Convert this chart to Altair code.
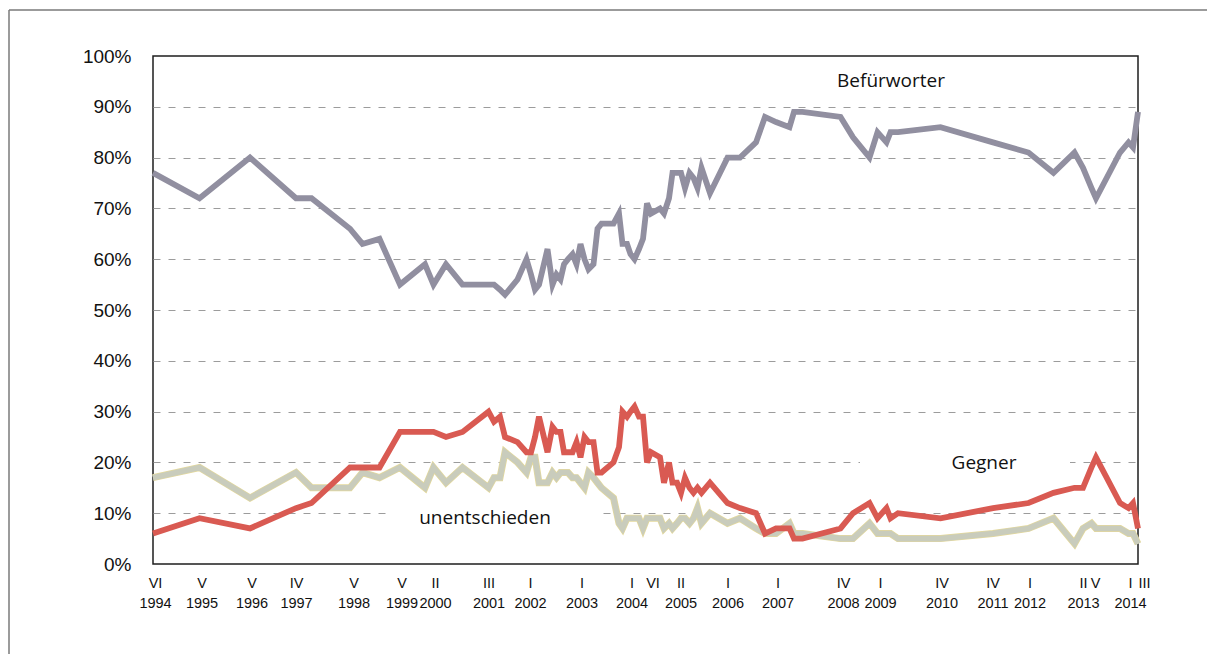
import json
import altair as alt
import pandas as pd

# survey dates (decimal years) and shares in percent
years = [
    1994.46, 1995.39, 1996.40, 1997.32, 1997.63, 1998.40, 1998.65, 1998.99, 1999.40, 1999.90,
    2000.07, 2000.32, 2000.65, 2001.17, 2001.28, 2001.40, 2001.50, 2001.75, 2001.93, 2002.02,
    2002.10, 2002.18, 2002.35, 2002.45, 2002.53, 2002.61, 2002.68, 2002.76, 2002.85, 2002.93,
    2003.01, 2003.09, 2003.17, 2003.27, 2003.35, 2003.43, 2003.67, 2003.78, 2003.85, 2003.94,
    2004.01, 2004.09, 2004.18, 2004.26, 2004.34, 2004.42, 2004.60, 2004.68, 2004.78, 2004.85,
    2004.94, 2005.02, 2005.10, 2005.19, 2005.27, 2005.35, 2005.43, 2005.60, 2005.95, 2006.20,
    2006.52, 2006.70, 2006.92, 2007.19, 2007.28, 2007.45, 2008.21, 2008.46, 2008.79, 2008.95,
    2009.13, 2009.21, 2009.36, 2010.21, 2011.26, 2011.97, 2012.47, 2012.89, 2013.06, 2013.23,
    2013.32, 2013.80, 2013.97, 2014.06, 2014.16,
]
befuerworter = [
    77, 72, 80, 72, 72, 66, 63, 64, 55, 59,
    55, 59, 55, 55, 55, 54, 53, 56, 60, 57,
    54, 55, 62, 55, 57, 56, 59, 60, 61, 59,
    63, 60, 58, 59, 66, 67, 67, 69, 63, 63,
    61, 60, 62, 64, 71, 69, 70, 69, 72, 77,
    77, 77, 74, 77, 76, 74, 78, 73, 80, 80,
    83, 88, 87, 86, 89, 89, 88, 84, 80, 85,
    83, 85, 85, 86, 83, 81, 77, 81, 78, 74,
    72, 81, 83, 82, 89,
]
gegner = [
    6, 9, 7, 11, 12, 19, 19, 19, 26, 26,
    26, 25, 26, 30, 28, 29, 25, 24, 22, 22,
    25, 29, 22, 27, 26, 26, 22, 22, 22, 24,
    21, 25, 24, 24, 18, 18, 20, 23, 30, 29,
    30, 31, 29, 29, 20, 22, 21, 16, 20, 16,
    16, 14, 17, 15, 14, 15, 14, 16, 12, 11,
    10, 6, 7, 7, 5, 5, 7, 10, 12, 9,
    11, 9, 10, 9, 11, 12, 14, 15, 15, 19,
    21, 12, 11, 12, 7,
]
unentschieden = [
    17, 19, 13, 18, 15, 15, 18, 17, 19, 15,
    19, 16, 19, 15, 17, 17, 22, 20, 18, 21,
    21, 16, 16, 18, 17, 18, 18, 18, 17, 17,
    16, 15, 18, 17, 16, 15, 13, 8, 7, 9,
    9, 9, 9, 7, 9, 9, 9, 7, 8, 7,
    8, 9, 9, 8, 9, 11, 8, 10, 8, 9,
    7, 6, 6, 8, 6, 6, 5, 5, 8, 6,
    6, 6, 5, 5, 6, 7, 9, 4, 7, 8,
    7, 7, 6, 6, 4,
]

# x-axis tick labels (Roman month + year)
tick_values = [1994.50, 1995.43, 1996.43, 1997.32, 1998.47, 1999.43, 2000.10, 2001.17,
               2002.00, 2003.03, 2004.03, 2004.45, 2005.01, 2005.95, 2006.95, 2008.26,
               2009.00, 2010.23, 2011.25, 2011.99, 2013.06, 2013.30, 2014.00, 2014.16]
tick_roman = ["VI", "V", "V", "IV", "V", "V", "II", "III", "I", "I", "I", "VI", "II", "I",
              "I", "IV", "I", "IV", "IV", "I", "II", "V", "I", "III"]
tick_year = ["1994", "1995", "1996", "1997", "1998", "1999", "2000", "2001", "2002", "2003",
             "2004", "", "2005", "2006", "2007", "2008", "2009", "2010", "2011", "2012",
             "2013", "", "2014", ""]

# series labels placed in data coordinates
label_text = ["Befürworter", "Gegner", "unentschieden"]
label_t = [2009.22, 2011.08, 2001.10]
label_v = [95.1, 19.9, 9.0]
# white boxes behind the Gegner / unentschieden labels
box_t = [2008.60, 1999.20]
box_t2 = [2012.80, 2003.46]
box_v = [17.0, 5.5]
box_v2 = [22.5, 12.5]

series_names = ["Befürworter", "Gegner", "unentschieden"]
series_values = [befuerworter, gegner, unentschieden]
rows = []
for name, vals in zip(series_names, series_values):
    for t, v in zip(years, vals):
        rows.append({"t": t, "v": v, "serie": name})
df = pd.DataFrame(rows)

labels_df = pd.DataFrame({"t": label_t, "v": label_v, "text": label_text})
boxes_df = pd.DataFrame({"t": box_t, "t2": box_t2, "v": box_v, "v2": box_v2})

label_arrays = [[r, y] if y else [r] for r, y in zip(tick_roman, tick_year)]
label_expr = f"{json.dumps(label_arrays)}[indexof({json.dumps(tick_values)}, datum.value)]"

xscale = alt.Scale(domain=[1994.46, 2014.16], nice=False, zero=False)
yscale = alt.Scale(domain=[0, 100], nice=False)

xaxis = alt.Axis(
    values=tick_values, labelExpr=label_expr, title=None, grid=False, domain=False,
    ticks=False, labelFont="Liberation Sans", labelFontSize=14.5, labelColor="#111111",
    labelPadding=12, labelLineHeight=20, labelOverlap=False, labelFlush=False,
    labelBound=False, labelBaseline="top",
    labelAlign={"condition": {"test": "datum.value > 2014.1", "value": "left"}, "value": "center"},
)
yaxis = alt.Axis(
    values=list(range(0, 101, 10)), labelExpr="datum.value + '%'", title=None,
    domain=False, ticks=False, grid=True, gridDash=[7, 8], gridColor="#9c9c9c", gridWidth=1,
    gridOpacity={"condition": {"test": "datum.value == 0 || datum.value == 100", "value": 0}, "value": 1},
    labelFont="Liberation Sans", labelFontSize=19, labelColor="#111111", labelPadding=22,
)

X = alt.X("t:Q", scale=xscale, axis=xaxis)
Y = alt.Y("v:Q", scale=yscale, axis=yaxis)

boxes = alt.Chart(boxes_df).mark_rect(color="white").encode(
    x=X, x2="t2:Q", y=Y, y2="v2:Q"
)

base = alt.Chart(df)
u_edge = base.transform_filter("datum.serie == 'unentschieden'").mark_line(
    color="#E4D99C", strokeWidth=7).encode(x=X, y=Y)
u_line = base.transform_filter("datum.serie == 'unentschieden'").mark_line(
    color="#C9CCBC", strokeWidth=5.6).encode(x=X, y=Y)
b_line = base.transform_filter("datum.serie == 'Befürworter'").mark_line(
    color="#918FA0", strokeWidth=5.8).encode(x=X, y=Y)
g_line = base.transform_filter("datum.serie == 'Gegner'").mark_line(
    color="#D95A52", strokeWidth=5.8).encode(x=X, y=Y)

texts = alt.Chart(labels_df).mark_text(
    font="Open Sans", fontSize=19, color="#111111", align="center", baseline="middle"
).encode(x=X, y=Y, text="text:N")

frame_data = alt.Data(values=[{"k": 1}])
frame_v = alt.Chart(frame_data).mark_rule(color="#7a7a7a", strokeWidth=1.5).encode(
    x=alt.value(-144), y=alt.value(-46), y2=alt.value(600))
frame_h = alt.Chart(frame_data).mark_rule(color="#7a7a7a", strokeWidth=1.5).encode(
    x=alt.value(-144), x2=alt.value(1060), y=alt.value(-46))

chart = alt.layer(boxes, u_edge, u_line, b_line, g_line, texts, frame_v, frame_h).properties(
    width=985, height=508,
    autosize=alt.AutoSizeParams(type="none"),
    padding={"left": 145, "top": 48, "right": 69, "bottom": 90},
    background="white",
).configure_view(stroke="#1e1e1e", strokeWidth=1.5)

chart.save("out.html", embed_options={"renderer": "svg", "actions": False})
